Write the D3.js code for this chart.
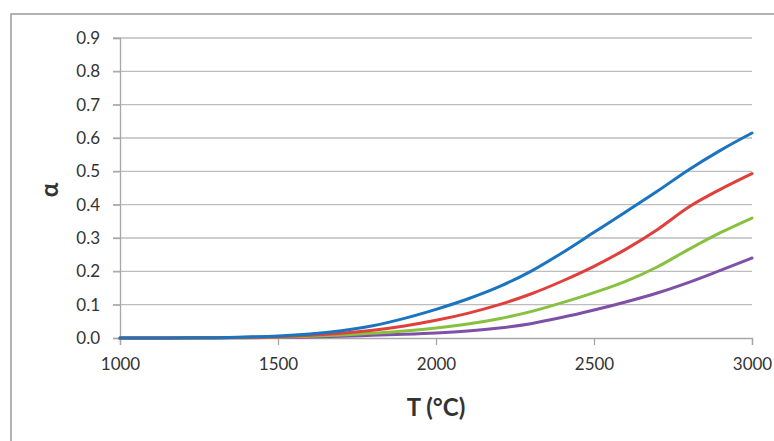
<!DOCTYPE html>
<html><head><meta charset="utf-8">
<script src="https://cdn.jsdelivr.net/npm/d3@7"></script>
<style>
html,body{margin:0;padding:0;background:#fff;}
svg{display:block;}
text{font-family:Lato,"Open Sans",sans-serif;fill:#333;}
</style></head><body>
<svg id="c" width="774" height="441"></svg>
<script>
const temps = [1000,1100,1200,1300,1400,1500,1600,1700,1800,1900,2000,2100,2200,2300,2400,2500,2600,2700,2800,2900,3000];
const seriesBlue   = [0,0,0.0005,0.001,0.003,0.006,0.012,0.022,0.037,0.059,0.086,0.117,0.154,0.2,0.256,0.317,0.378,0.44,0.505,0.563,0.615];
const seriesRed    = [0,0,0.0003,0.0007,0.002,0.004,0.008,0.014,0.023,0.036,0.053,0.074,0.1,0.132,0.171,0.215,0.266,0.325,0.393,0.446,0.493];
const seriesGreen  = [0,0,0.0002,0.0005,0.001,0.0025,0.005,0.009,0.014,0.021,0.03,0.042,0.058,0.079,0.106,0.136,0.17,0.213,0.266,0.316,0.36];
const seriesPurple = [0,0,0.0001,0.0003,0.0007,0.0015,0.003,0.005,0.008,0.011,0.015,0.021,0.03,0.043,0.062,0.084,0.108,0.135,0.167,0.203,0.24];
const seriesColors = ["#1a74c0","#e0403c","#88c040","#7f50a8"];
const xTicks = [1000,1500,2000,2500,3000];
const yTicks = [0,0.1,0.2,0.3,0.4,0.5,0.6,0.7,0.8,0.9];
const xTitle = "T (°C)";
const yTitle = "α";

const svg = d3.select("#c");
// outer chart border
svg.append("rect").attr("x",11).attr("y",14).attr("width",800).attr("height",500)
  .attr("fill","none").attr("stroke","#9a9a9a").attr("stroke-width",1.5);

const x = d3.scaleLinear().domain([1000,3000]).range([120,752]);
const y = d3.scaleLinear().domain([0,0.9]).range([338,38]);

// gridlines
svg.append("g").selectAll("line").data(yTicks.filter(d=>d>0)).join("line")
  .attr("x1",113).attr("x2",752).attr("y1",d=>y(d)).attr("y2",d=>y(d))
  .attr("stroke","#bdbdbd").attr("stroke-width",1.3);

// y axis
const ya = svg.append("g").attr("transform","translate(120,0)")
  .call(d3.axisLeft(y).tickValues(yTicks).tickFormat(d3.format(".1f")).tickSize(7).tickPadding(13));
ya.select(".domain").attr("stroke","#a6a6a6").attr("stroke-width",1.3);
ya.selectAll(".tick line").attr("stroke","#a6a6a6").attr("stroke-width",1.3);
ya.selectAll("text").attr("font-size",17).attr("fill","#404040").style("font-family","Lato");

// x axis
const xa = svg.append("g").attr("transform","translate(0,338)")
  .call(d3.axisBottom(x).tickValues(xTicks).tickFormat(d3.format("d")).tickSize(7).tickPadding(13));
xa.select(".domain").attr("stroke","#a6a6a6").attr("stroke-width",1.3);
xa.selectAll(".tick line").attr("stroke","#a6a6a6").attr("stroke-width",1.3);
xa.selectAll("text").attr("font-size",17).attr("fill","#404040").style("font-family","Lato");

// lines
const allSeries = [seriesBlue,seriesRed,seriesGreen,seriesPurple];
const line = d3.line().x((d,i)=>x(temps[i])).y(d=>y(d)).curve(d3.curveMonotoneX);
svg.append("g").selectAll("path").data(allSeries.slice().reverse()).join("path")
  .attr("d",line).attr("fill","none")
  .attr("stroke",(d,i)=>seriesColors[3-i]).attr("stroke-width",3).attr("stroke-linecap","round");

// titles
svg.append("text").attr("x",436).attr("y",416).attr("text-anchor","middle")
  .attr("font-size",24).attr("font-weight","bold").attr("fill","#222").text(xTitle);
svg.append("text").attr("transform","translate(58,190) rotate(-90)").attr("text-anchor","middle")
  .attr("font-size",24).attr("font-weight","bold").attr("fill","#222").text(yTitle);
</script>
</body></html>
